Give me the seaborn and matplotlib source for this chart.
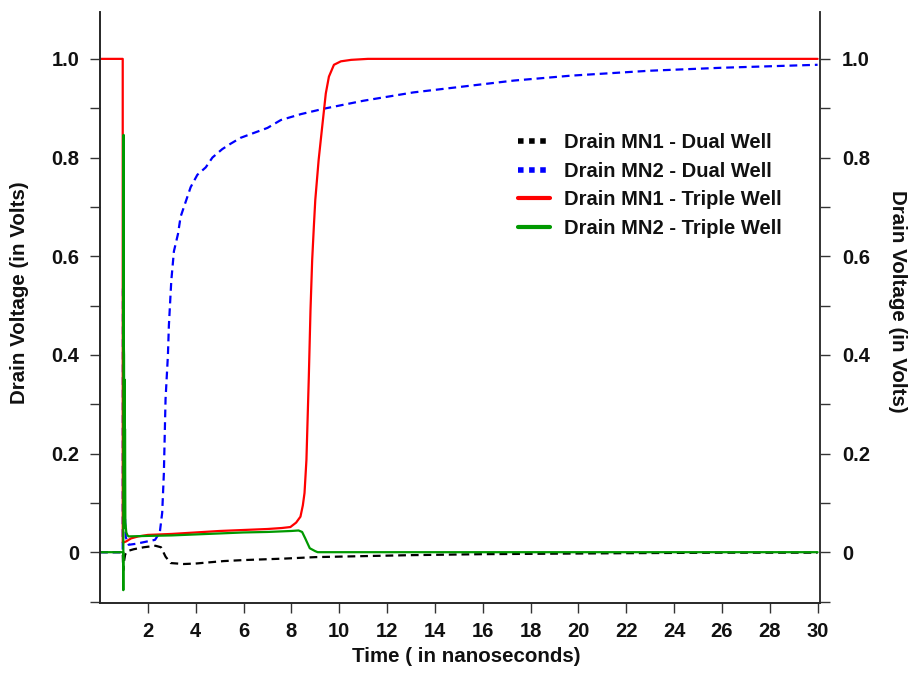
import numpy as np
import pandas as pd
import matplotlib
matplotlib.use("Agg")
import matplotlib.pyplot as plt
import seaborn as sns
from matplotlib.lines import Line2D
from matplotlib.ticker import MultipleLocator, FixedLocator, FixedFormatter

# ---------------- data ----------------
t_mn1_dual = [0, 0.95, 0.97, 1.0, 1.05, 1.13, 1.41, 1.83, 2.32, 2.55, 2.74, 2.95, 3.5, 4.0,
              5.18, 6.0, 7.7, 9.0, 11.0, 13.0, 16.0, 19.0, 22.0, 26.0, 30.0]
v_mn1_dual = [0, 0, -0.037, -0.02, -0.005, 0.002, 0.006, 0.010, 0.013, 0.010, -0.009, -0.022,
              -0.024, -0.023, -0.018, -0.016, -0.013, -0.010, -0.008, -0.006, -0.004, -0.003,
              -0.002, -0.001, -0.001]

t_mn2_dual = [0, 0.95, 0.96, 0.99, 1.02, 1.08, 1.2, 1.5, 1.9, 2.3, 2.5, 2.6, 2.67, 2.74, 2.84,
              2.88, 2.98, 3.09, 3.26, 3.37, 3.58, 3.79, 4.07, 4.42, 4.70, 5.11, 5.46, 5.88, 6.44,
              7.0, 7.56, 8.4, 9.36, 11.0, 13.1, 15.2, 17.3, 19.7, 23.0, 26.0, 30.0]
v_mn2_dual = [0, 0, 0.537, 0.45, 0.10, 0.03, 0.015, 0.017, 0.021, 0.025, 0.04, 0.08, 0.16, 0.31,
              0.40, 0.46, 0.55, 0.61, 0.645, 0.68, 0.71, 0.74, 0.765, 0.78, 0.80, 0.817, 0.828,
              0.84, 0.85, 0.86, 0.876, 0.888, 0.899, 0.915, 0.932, 0.944, 0.956, 0.966, 0.976,
              0.982, 0.988]

t_mn1_triple = [0, 0.95, 0.951, 1.0, 1.1, 1.3, 1.6, 2.0, 3.0, 4.0, 5.0, 6.0, 7.0, 7.6, 7.96, 8.2,
                8.38, 8.48, 8.55, 8.63, 8.69, 8.73, 8.80, 8.87, 8.94, 9.0, 9.14, 9.29, 9.44, 9.57,
                9.78, 10.07, 10.5, 11.2, 30.0]
v_mn1_triple = [1.0, 1.0, 0.02, 0.02, 0.022, 0.028, 0.032, 0.035, 0.037, 0.040, 0.043, 0.045,
                0.047, 0.049, 0.051, 0.060, 0.072, 0.095, 0.12, 0.187, 0.288, 0.356, 0.491, 0.592,
                0.66, 0.714, 0.795, 0.863, 0.93, 0.964, 0.988, 0.995, 0.998, 1.0, 1.0]

t_mn2_triple = [0, 0.97, 0.975, 0.985, 0.995, 1.005, 1.015, 1.025, 1.035, 1.045, 1.06, 1.10, 1.15,
                1.2, 2.0, 3.0, 4.0, 5.0, 6.0, 7.0, 8.0, 8.3, 8.45, 8.58, 8.77, 9.0, 9.1, 10.0, 30.0]
v_mn2_triple = [0, 0, -0.077, 0.846, 0.42, 0.40, 0.05, 0.35, 0.06, 0.25, 0.06, 0.04, 0.034,
                0.032, 0.033, 0.034, 0.036, 0.038, 0.040, 0.041, 0.043, 0.044, 0.041, 0.028,
                0.008, 0.002, 0.0, 0.0, 0.0]

series_names = ["Drain MN1 - Dual Well", "Drain MN2 - Dual Well",
                "Drain MN1 - Triple Well", "Drain MN2 - Triple Well"]
series_colors = ["#000000", "#0000ff", "#ff0000", "#009900"]

x_ticks = list(range(2, 31, 2))
x_tick_labels = [str(v) for v in x_ticks]
y_ticks = [0, 0.2, 0.4, 0.6, 0.8, 1.0]
y_tick_labels = ["0", "0.2", "0.4", "0.6", "0.8", "1.0"]

# ---------------- style ----------------
sns.set_theme(style="ticks")
plt.rcParams["font.family"] = ["Liberation Sans", "DejaVu Sans"]
plt.rcParams["font.weight"] = "bold"

fig = plt.figure(figsize=(9.09, 6.73), dpi=100)
ax = fig.add_axes([100 / 909, 70 / 673, 720 / 909, 591 / 673])

data = [(t_mn1_dual, v_mn1_dual), (t_mn2_dual, v_mn2_dual),
        (t_mn1_triple, v_mn1_triple), (t_mn2_triple, v_mn2_triple)]
styles = [(0, (3.5, 2.2)), (0, (3.5, 2.2)), "-", "-"]
for (t, v), name, col, ls in zip(data, series_names, series_colors, styles):
    df = pd.DataFrame({"t": t, "v": v})
    sns.lineplot(data=df, x="t", y="v", ax=ax, color=col, linewidth=1.6,
                 linestyle=ls, estimator=None, sort=False, legend=False)

ax.set_xlim(0, 30.1)
ax.set_ylim(-0.103, 1.095)

ax.xaxis.set_major_locator(FixedLocator(x_ticks))
ax.xaxis.set_major_formatter(FixedFormatter(x_tick_labels))
ax.yaxis.set_major_locator(FixedLocator(y_ticks))
ax.yaxis.set_major_formatter(FixedFormatter(y_tick_labels))
ax.yaxis.set_minor_locator(MultipleLocator(0.1))

tick_font = 14.5
label_font = 14.8
ax.tick_params(axis="both", which="both", direction="out", length=7, width=1,
               color="#333333", labelsize=tick_font, labelcolor="#111111")
ax.tick_params(axis="x", pad=7)
ax.tick_params(axis="y", pad=8)
for lab in ax.get_xticklabels() + ax.get_yticklabels():
    lab.set_fontweight("bold")

for s in ["left", "bottom", "right"]:
    ax.spines[s].set_color("#333333")
    ax.spines[s].set_linewidth(1.2)
ax.spines["top"].set_visible(False)

ax.set_xlabel("Time ( in nanoseconds)", fontsize=label_font, fontweight="bold", color="#111111")
ax.xaxis.set_label_coords(0.508, -0.074)
ax.set_ylabel("Drain Voltage (in Volts)", fontsize=label_font, fontweight="bold",
              color="#111111", va="center")
ax.yaxis.set_label_coords(-0.112, 0.525)

ax2 = ax.twinx()
ax2.set_ylim(ax.get_ylim())
ax2.yaxis.set_major_locator(FixedLocator(y_ticks))
ax2.yaxis.set_major_formatter(FixedFormatter(y_tick_labels))
ax2.yaxis.set_minor_locator(MultipleLocator(0.1))
ax2.tick_params(axis="y", which="both", direction="out", length=7, width=1, color="#333333",
                labelsize=tick_font, labelcolor="#111111", pad=9)
for lab in ax2.get_yticklabels():
    lab.set_fontweight("bold")
ax2.spines["top"].set_visible(False)
ax2.spines["right"].set_color("#333333")
ax2.spines["right"].set_linewidth(1.2)
ax2.set_ylabel("Drain Voltage (in Volts)", fontsize=label_font, fontweight="bold",
               color="#111111", rotation=270, va="center", ha="center")
ax2.yaxis.set_label_coords(1.107, 0.51)

handles = [
    Line2D([], [], color=series_colors[0], linewidth=4, linestyle=(0, (1, 1))),
    Line2D([], [], color=series_colors[1], linewidth=4, linestyle=(0, (1, 1))),
    Line2D([], [], color=series_colors[2], linewidth=3),
    Line2D([], [], color=series_colors[3], linewidth=3),
]
leg = fig.legend(handles, series_names, loc="center left",
                 bbox_to_anchor=(518 / 909, 1 - 185.5 / 673), frameon=False,
                 prop={"family": ["Liberation Sans"], "weight": "bold", "size": 14.5},
                 handlelength=1.6, handletextpad=0.7, labelspacing=0.48,
                 borderpad=0, borderaxespad=0)
for txt in leg.get_texts():
    txt.set_color("#111111")

fig.savefig("out.png", dpi=100)
